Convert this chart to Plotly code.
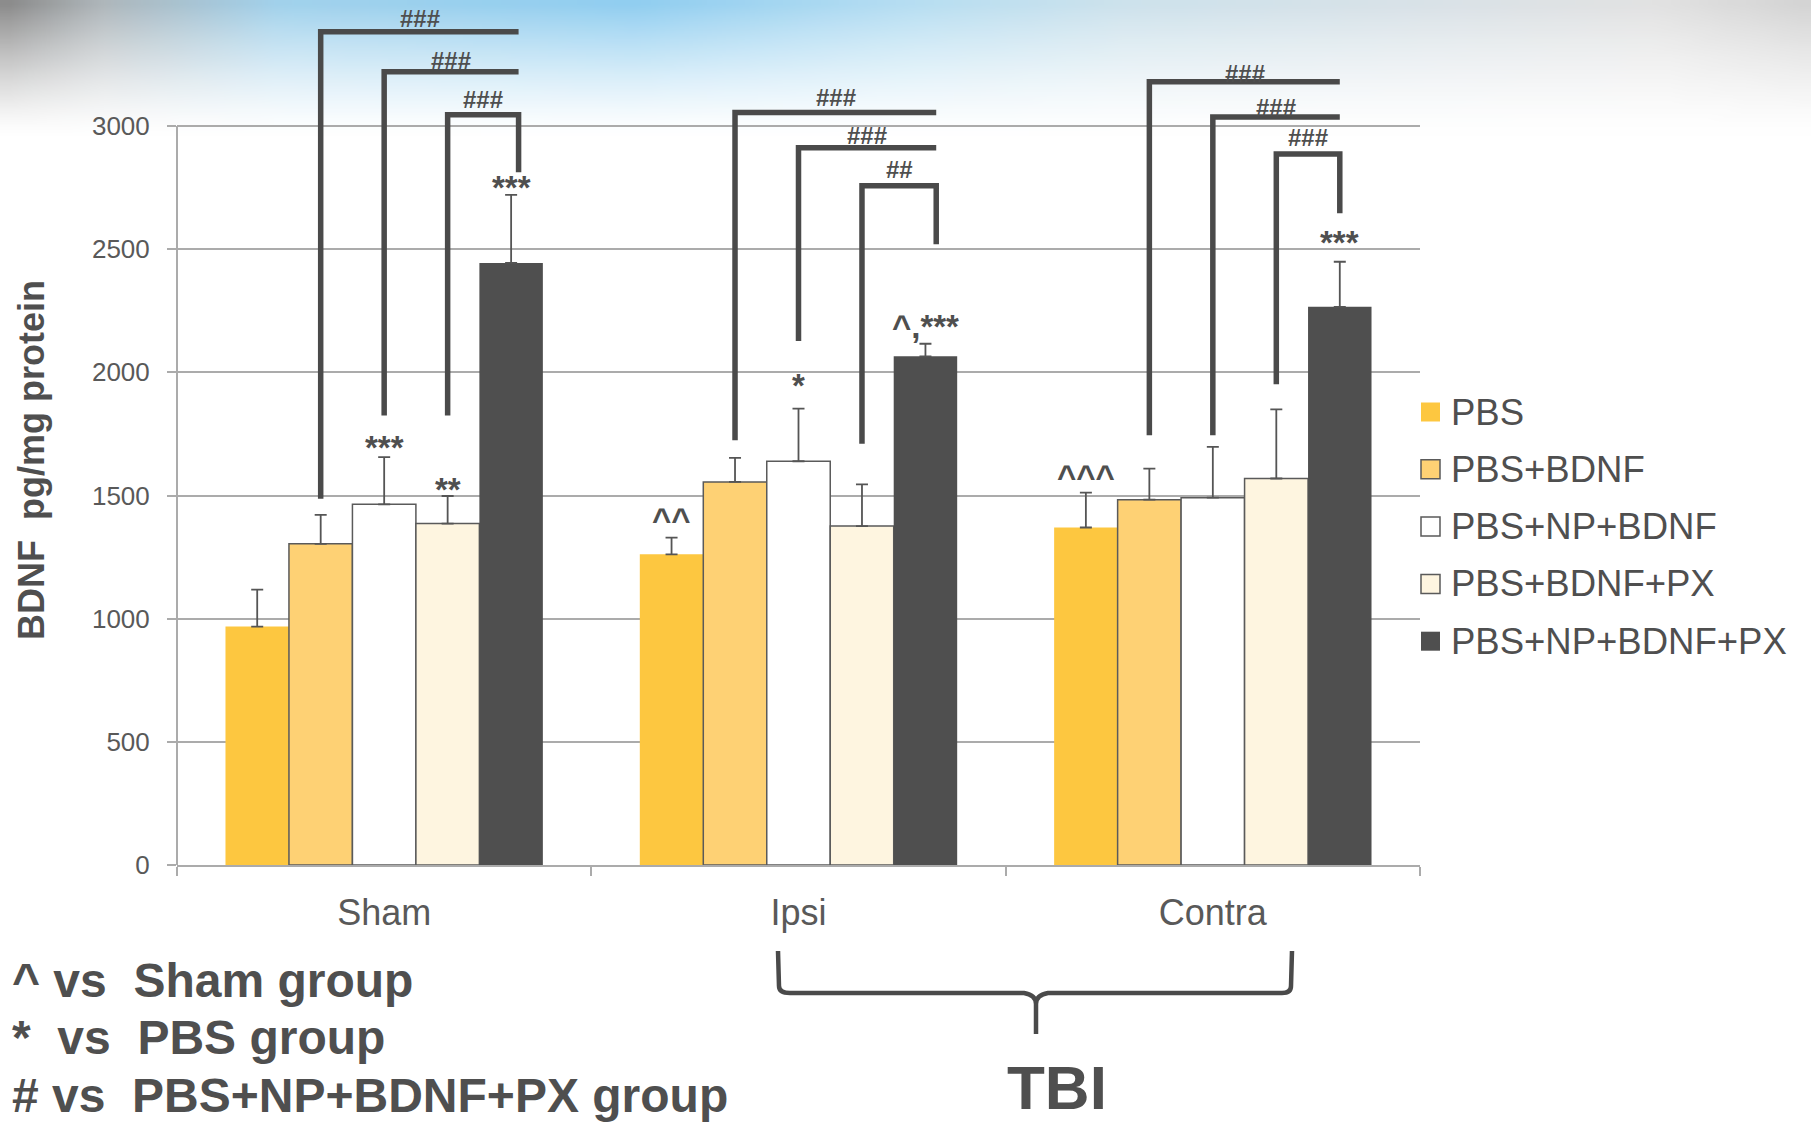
import base64
import struct
import zlib

import plotly.graph_objects as go

# ---- data -------------------------------------------------------------
categories = ["Sham", "Ipsi", "Contra"]
series_names = ["PBS", "PBS+BDNF", "PBS+NP+BDNF", "PBS+BDNF+PX", "PBS+NP+BDNF+PX"]

pbs = [968, 1261, 1370]
pbs_err = [150, 68, 142]
pbs_bdnf = [1304, 1555, 1483]
pbs_bdnf_err = [117, 98, 126]
pbs_np_bdnf = [1464, 1639, 1491]
pbs_np_bdnf_err = [192, 214, 206]
pbs_bdnf_px = [1386, 1376, 1569]
pbs_bdnf_px_err = [112, 169, 281]
pbs_np_bdnf_px = [2444, 2065, 2266]
pbs_np_bdnf_px_err = [276, 51, 183]

y_ticks = [0, 500, 1000, 1500, 2000, 2500, 3000]

# significance marks above single bars: (group, bar, text, y of glyph centre)
marks = [
    (0, 2, "***", 1710), (0, 3, "**", 1539), (0, 4, "***", 2766),
    (1, 0, "^^", 1418), (1, 2, "*", 1963), (1, 4, "^,***", 2204),
    (2, 0, "^^^", 1592), (2, 4, "***", 2545),
]

# comparison brackets to the last bar of each group:
# (group, left bar, bracket top, left leg bottom, right leg bottom, label, label y)
brackets = [
    (0, 1, 3383, 1487, None, "###", 3443),
    (0, 2, 3220, 1825, None, "###", 3276),
    (0, 3, 3046, 1825, 2812, "###", 3114),
    (1, 1, 3055, 1724, None, "###", 3122),
    (1, 2, 2912, 2127, None, "###", 2969),
    (1, 3, 2757, 1710, 2520, "##", 2833),
    (2, 1, 3180, 1745, None, "###", 3223),
    (2, 2, 3037, 1745, None, "###", 3083),
    (2, 3, 2886, 1952, 2646, "###", 2960),
]

notes = ["^ vs\u00a0 Sham group", "*\u00a0 vs\u00a0 PBS group", "# vs\u00a0 PBS+NP+BDNF+PX group"]

# ---- styling ----------------------------------------------------------
FONT = "Liberation Sans, Arial, sans-serif"
INK = "#4f4f4f"
GRID = "#ababab"
fills = ["#FDC740", "#FED174", "#FFFFFF", "#FEF5E0", "#4F4F4F"]
edges = [0, 1.5, 1.5, 1.5, 0]
values = [pbs, pbs_bdnf, pbs_np_bdnf, pbs_bdnf_px, pbs_np_bdnf_px]
errors = [pbs_err, pbs_bdnf_err, pbs_np_bdnf_err, pbs_bdnf_px_err, pbs_np_bdnf_px_err]

W, H = 1811, 1122
ML, MR, MT, MB = 177, 391, 5, 257
PW, PH = W - ML - MR, H - MT - MB
Y_MAX = PH / 739 * 3000
BARGAP = 0.234
BW = (1 - BARGAP) / len(series_names)
right_nudge = [0.018, 0.026, 0.0]


def bar_x(g, b):
    return g + (b - 2) * BW


def paper(px, py):
    return (px - ML) / PW, (H - MB - py) / PH


# ---- soft banner behind the top of the chart -------------------------
def banner_png(w, h):
    stops = [
        (0.00, (140, 140, 140)), (0.05, (175, 182, 186)), (0.15, (162, 210, 236)),
        (0.35, (145, 206, 240)), (0.50, (182, 222, 242)), (0.62, (205, 226, 236)),
        (0.80, (218, 226, 231)), (0.92, (226, 226, 226)), (1.00, (212, 212, 212)),
    ]

    def base(t):
        for (t0, c0), (t1, c1) in zip(stops, stops[1:]):
            if t <= t1:
                f = (t - t0) / (t1 - t0)
                return [c0[k] + (c1[k] - c0[k]) * f for k in range(3)]
        return list(stops[-1][1])

    raw = bytearray()
    for j in range(h):
        raw.append(0)
        a = (1 - j / (h - 1)) ** 1.3
        for i in range(w):
            c = base(i / (w - 1))
            raw.extend(int(round(255 + (c[k] - 255) * a)) for k in range(3))

    def chunk(tag, data):
        body = tag + data
        return struct.pack(">I", len(data)) + body + struct.pack(">I", zlib.crc32(body) & 0xFFFFFFFF)

    png = (b"\x89PNG\r\n\x1a\n"
           + chunk(b"IHDR", struct.pack(">IIBBBBB", w, h, 8, 2, 0, 0, 0))
           + chunk(b"IDAT", zlib.compress(bytes(raw), 9))
           + chunk(b"IEND", b""))
    return "data:image/png;base64," + base64.b64encode(png).decode()


# ---- bars -------------------------------------------------------------
fig = go.Figure()
for name, vals, errs, fill, edge in zip(series_names, values, errors, fills, edges):
    fig.add_trace(go.Bar(
        name=name, x=categories, y=vals,
        marker=dict(color=fill, line=dict(color="#5a5a5a", width=edge)),
        error_y=dict(type="data", array=errs, arrayminus=[0] * len(errs), symmetric=False,
                     color="#555555", thickness=1.8, width=6),
        showlegend=False,
    ))

shapes = []
annotations = []

# y axis line, drawn only up to the top gridline
shapes.append(dict(type="line", xref="x domain", yref="y domain", x0=0, x1=0,
                   y0=0, y1=3000 / Y_MAX, line=dict(color=GRID, width=2)))

# brackets
for g, lb, top, lbot, rbot, label, ly in brackets:
    xl = bar_x(g, lb)
    xr = bar_x(g, 4) + right_nudge[g]
    path = f"M{xl},{lbot} L{xl},{top} L{xr},{top}"
    if rbot is not None:
        path += f" L{xr},{rbot}"
    shapes.append(dict(type="path", xref="x", yref="y", path=path,
                       line=dict(color="#4a4a4a", width=5.5)))
    annotations.append(dict(x=(xl + xr) / 2, y=ly, xref="x", yref="y", text=label,
                            showarrow=False, yanchor="middle", yshift=-2,
                            font=dict(family=FONT, size=24, color=INK, weight="bold")))

# significance marks
for g, b, text, y in marks:
    annotations.append(dict(x=bar_x(g, b), y=y, xref="x", yref="y", text=text,
                            showarrow=False, yanchor="middle", yshift=-4,
                            font=dict(family=FONT, size=33, color=INK, weight="bold")))

# legend drawn as swatches + labels
for k, (name, fill, edge) in enumerate(zip(series_names, fills, edges)):
    cy = 412 + k * 57.3
    x0, y0 = paper(1421, cy + 9.5)
    x1, y1 = paper(1440, cy - 9.5)
    shapes.append(dict(type="rect", xref="paper", yref="paper", x0=x0, x1=x1, y0=y0, y1=y1,
                       fillcolor=fill, line=dict(color="#5a5a5a", width=edge)))
    tx, ty = paper(1449, cy)
    annotations.append(dict(x=tx, y=ty, xref="paper", yref="paper", text=name,
                            showarrow=False, xanchor="left", yanchor="middle",
                            font=dict(family=FONT, size=36.5, color=INK)))

# y axis title
tx, ty = paper(31, 460)
annotations.append(dict(x=tx, y=ty, xref="paper", yref="paper", text="BDNF\u00a0 pg/mg protein",
                        textangle=-90, showarrow=False, xanchor="center", yanchor="middle",
                        font=dict(family=FONT, size=36, color=INK, weight="bold")))

# footnotes
for k, line in enumerate(notes):
    tx, ty = paper(10, 980 + k * 57.5)
    annotations.append(dict(x=tx, y=ty, xref="paper", yref="paper", text=line,
                            showarrow=False, xanchor="left", yanchor="middle",
                            font=dict(family=FONT, size=48, color=INK, weight="bold")))

# brace grouping the injured sides
pts = {
    "l0": paper(778, 951), "l1": paper(779, 986), "l2": paper(790, 993),
    "c0": paper(1024, 993), "c1": paper(1036, 995), "c2": paper(1036, 1004), "tip": paper(1036, 1034),
    "c3": paper(1036, 995), "c4": paper(1048, 993),
    "r2": paper(1282, 993), "r1": paper(1291, 986), "r0": paper(1292, 951),
}
p = lambda key: f"{pts[key][0]:.5f},{pts[key][1]:.5f}"
brace = (f"M{p('l0')} L{p('l1')} Q{paper(779, 993)[0]:.5f},{paper(779, 993)[1]:.5f} {p('l2')} "
         f"L{p('c0')} Q{p('c1')} {p('c2')} L{p('tip')} "
         f"M{p('c2')} Q{p('c3')} {p('c4')} L{p('r2')} "
         f"Q{paper(1291, 993)[0]:.5f},{paper(1291, 993)[1]:.5f} {p('r1')} L{p('r0')}")
shapes.append(dict(type="path", xref="paper", yref="paper", path=brace,
                   line=dict(color="#4a4a4a", width=4.5)))

tx, ty = paper(1057, 1087)
annotations.append(dict(x=tx, y=ty, xref="paper", yref="paper", text="TBI",
                        showarrow=False, xanchor="center", yanchor="middle",
                        font=dict(family=FONT, size=62, color=INK, weight="bold")))

bx, by = paper(0, 0)
images = [dict(source=banner_png(96, 16), xref="paper", yref="paper", x=bx, y=by,
               sizex=W / PW, sizey=140 / PH, xanchor="left", yanchor="top",
               sizing="stretch", layer="below")]

fig.update_layout(
    width=W, height=H,
    margin=dict(l=ML, r=MR, t=MT, b=MB),
    paper_bgcolor="white", plot_bgcolor="rgba(0,0,0,0)",
    barmode="group", bargap=BARGAP, bargroupgap=0,
    font=dict(family=FONT, color=INK),
    shapes=shapes, annotations=annotations, images=images,
    xaxis=dict(
        range=[-0.5, 2.5], showgrid=False, zeroline=False,
        showline=True, linecolor=GRID, linewidth=2,
        ticks="outside", tickson="boundaries", ticklen=9, tickwidth=2, tickcolor=GRID,
        tickfont=dict(family=FONT, size=36, color="#595959"), ticklabelstandoff=15,
    ),
    yaxis=dict(
        range=[0, Y_MAX], tickvals=y_ticks, showgrid=True, gridcolor=GRID, gridwidth=2,
        zeroline=False, showline=False,
        ticks="outside", ticklen=9, tickwidth=2, tickcolor=GRID,
        tickfont=dict(family=FONT, size=26, color="#595959"), ticklabelstandoff=12,
    ),
)

fig.write_html("out.html")
